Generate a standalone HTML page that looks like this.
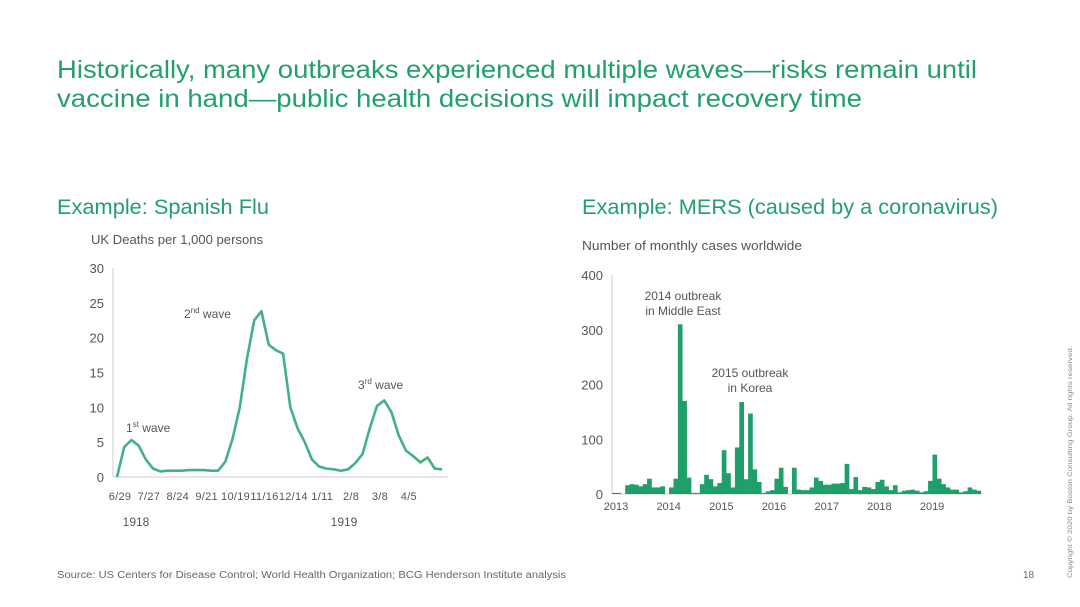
<!DOCTYPE html>
<html><head><meta charset="utf-8"><style>
html,body{margin:0;padding:0;background:#fff;width:1080px;height:607px;overflow:hidden}
svg{display:block;font-family:"Liberation Sans",sans-serif}
</style></head><body>
<svg id="s" width="1080" height="607" viewBox="0 0 1080 607">
<text x="57" y="78" font-size="25" fill="#22a06b" textLength="920" lengthAdjust="spacingAndGlyphs">Historically, many outbreaks experienced multiple waves—risks remain until</text>
<text x="57" y="107" font-size="25" fill="#22a06b" textLength="805" lengthAdjust="spacingAndGlyphs">vaccine in hand—public health decisions will impact recovery time</text>
<text x="57" y="214" font-size="21" fill="#22a06b" textLength="212" lengthAdjust="spacingAndGlyphs">Example: Spanish Flu</text>
<text x="582" y="214" font-size="21" fill="#22a06b" textLength="416" lengthAdjust="spacingAndGlyphs">Example: MERS (caused by a coronavirus)</text>
<text x="91" y="244" font-size="12.5" fill="#555" textLength="172" lengthAdjust="spacingAndGlyphs">UK Deaths per 1,000 persons</text>
<text x="582" y="250" font-size="12.5" fill="#555" textLength="220" lengthAdjust="spacingAndGlyphs">Number of monthly cases worldwide</text>
<g id="flu"></g>
<g id="mers"></g>
<text x="57" y="578" font-size="10" fill="#666" textLength="509" lengthAdjust="spacingAndGlyphs">Source: US Centers for Disease Control; World Health Organization; BCG Henderson Institute analysis</text>
<text x="1023" y="578" font-size="10" fill="#666">18</text>
<text transform="translate(1072,578) rotate(-90)" font-size="6.5" fill="#888" textLength="232" lengthAdjust="spacingAndGlyphs">Copyright © 2020 by Boston Consulting Group. All rights reserved.</text>
</svg>
<script>
const NS="http://www.w3.org/2000/svg";
const fluValues=[0,4.3,5.3,4.5,2.5,1.2,0.8,0.9,0.9,0.9,1.0,1.0,1.0,0.9,0.9,2.2,5.5,10,17,22.5,23.8,19,18.2,17.7,10,7,5,2.5,1.5,1.2,1.1,0.9,1.1,2,3.3,7,10.2,11,9.3,6,3.8,3,2.1,2.8,1.2,1.1];
const fluYTicks=[0,5,10,15,20,25,30];
const fluXLabels=["6/29","7/27","8/24","9/21","10/19","11/16","12/14","1/11","2/8","3/8","4/5"];
const fluYears=["1918","1919"];
const mersValues=[2,2,0,16,18,17,14,18,28,12,12,14, 0,12,28,310,170,30,2,2,18,35,27,14, 20,80,38,12,85,168,27,147,45,22,2,5, 7,28,48,13,0,48,8,7,7,12,30,24, 17,17,19,19,20,55,9,31,7,13,12,9, 22,26,14,7,16,3,6,7,8,6,3,5, 24,72,28,18,12,8,8,3,5,12,8,6];
const mersYTicks=[0,100,200,300,400];
const mersYears=["2013","2014","2015","2016","2017","2018","2019"];
function mk(tag,attrs,parent,txt){const e=document.createElementNS(NS,tag);for(const k in attrs)e.setAttribute(k,attrs[k]);if(txt!==undefined)e.textContent=txt;parent.appendChild(e);return e;}
const fg=document.getElementById('flu');
const fx0=117,fx1=442,fyb=477,fyt=268;
const fX=i=>fx0+i*(fx1-fx0)/(fluValues.length-1);
const fY=v=>fyb-v*(fyb-fyt)/30;
let a=mk('line',{x1:113,y1:fyt,x2:113,y2:fyb,stroke:'#ccc'},fg);


a=mk('line',{x1:113,y1:fyb,x2:448,y2:fyb,stroke:'#ccc'},fg);


fluYTicks.forEach(t=>{const e=mk('text',{x:104,y:fY(t)+5,'font-size':13,fill:'#555','text-anchor':'end'},fg,t);

});
fluXLabels.forEach((t,i)=>{const e=mk('text',{x:fX(4*i)+3,y:500,'font-size':11,fill:'#555','text-anchor':'middle','letter-spacing':'0.3'},fg,t);

});
[[136,fluYears[0]],[344,fluYears[1]]].forEach(([x,t])=>{const e=mk('text',{x:x,y:526,'font-size':12,fill:'#555','text-anchor':'middle'},fg,t);

});
const pl=mk('polyline',{points:fluValues.map((v,i)=>fX(i)+','+fY(v)).join(' '),fill:'none',stroke:'#43b282','stroke-width':2.6,'stroke-linejoin':'round'},fg);


[[126,432,'1','st'],[184,318,'2','nd'],[358,389,'3','rd']].forEach(([x,y,n,s])=>{const e=mk('text',{x:x,y:y,'font-size':12,fill:'#555'},fg);


mk('tspan',{},e,n);mk('tspan',{'font-size':8,dy:-5},e,s);mk('tspan',{dy:5},e,' wave');});
const mg=document.getElementById('mers');
const mx0=612,mw=4.39,myb=494,myt=275;
const mY=v=>myb-v*(myb-myt)/400;
a=mk('line',{x1:612,y1:myt,x2:612,y2:myb,stroke:'#ccc'},mg);


a=mk('line',{x1:612,y1:myb,x2:982,y2:myb,stroke:'#ccc'},mg);


mersYTicks.forEach(t=>{const e=mk('text',{x:603,y:mY(t)+5,'font-size':13,fill:'#555','text-anchor':'end'},mg,t);

});
mersValues.forEach((v,i)=>{const r=mk('rect',{x:mx0+i*mw,y:mY(v),width:mw+0.3,height:myb-mY(v),fill:'#1f9f69'},mg);

});
mersYears.forEach((t,i)=>{const e=mk('text',{x:mx0+4+i*12*mw,y:510,'font-size':11,fill:'#555','text-anchor':'middle'},mg,t);

});
[[683,300,'2014 outbreak'],[683,315,'in Middle East'],[750,377,'2015 outbreak'],[750,392,'in Korea']].forEach(([x,y,t])=>{const e=mk('text',{x:x,y:y,'font-size':12,fill:'#555','text-anchor':'middle'},mg,t);

});
</script>
</body></html>
